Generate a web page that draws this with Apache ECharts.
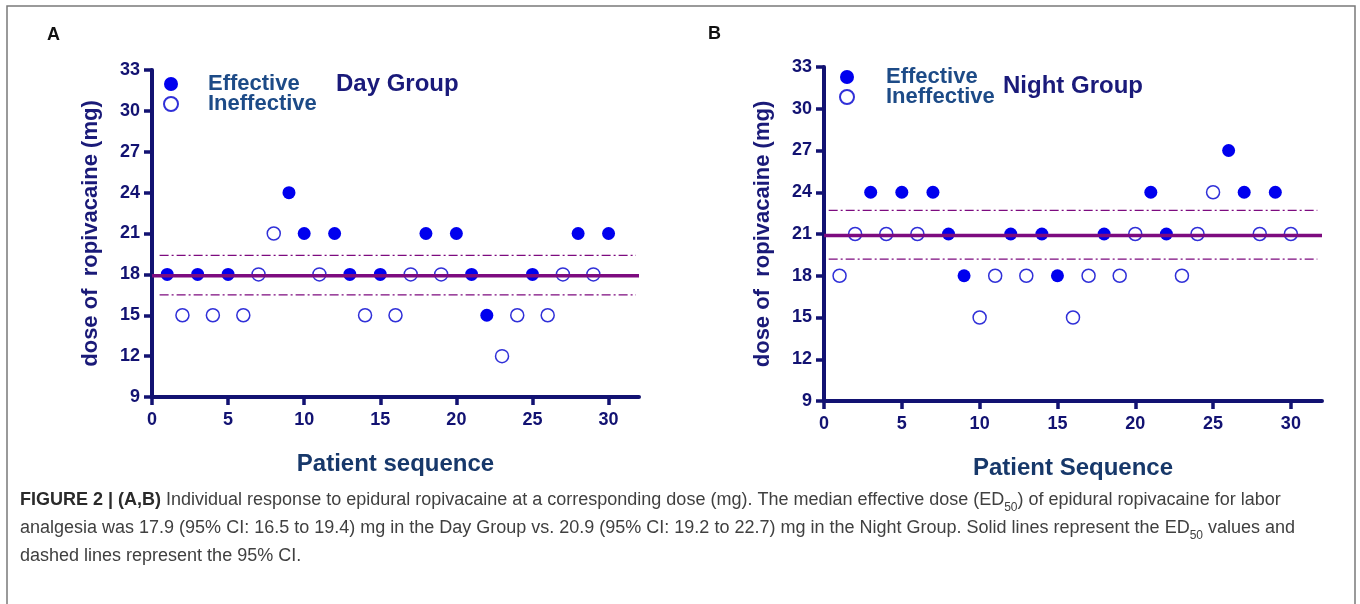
<!DOCTYPE html>
<html>
<head>
<meta charset="utf-8">
<script src="https://cdn.jsdelivr.net/npm/echarts@6/dist/echarts.min.js"></script>
<style>
html,body{margin:0;padding:0;background:#fff;}
#c{width:1360px;height:604px;}
</style>
</head>
<body>
<div id="c"></div>
<script>
// ---------- data ----------
const patients = [1,2,3,4,5,6,7,8,9,10,11,12,13,14,15,16,17,18,19,20,21,22,23,24,25,26,27,28,29,30];
const doseDay = [18,15,18,15,18,15,18,21,24,21,18,21,18,15,18,15,18,21,18,21,18,15,12,15,18,15,18,21,18,21];
const effDay  = [1,0,1,0,1,0,0,0,1,1,0,1,1,0,1,0,0,1,0,1,1,1,0,0,1,0,0,1,0,1];
const doseNight = [18,21,24,21,24,21,24,21,18,15,18,21,18,21,18,15,18,21,18,21,24,21,18,21,24,27,24,21,24,21];
const effNight  = [0,0,1,0,1,0,1,1,1,0,0,1,0,1,1,0,0,1,0,0,1,1,0,0,0,1,1,0,1,0];
const ed50Day = 17.9, ciDay = [16.5, 19.4];
const ed50Night = 20.9, ciNight = [19.2, 22.7];
const xTicks = [0,5,10,15,20,25,30];
const yTicks = [9,12,15,18,21,24,27,30,33];
const xRange = [0, 32];
const ciSpanDay = [0.5, 31.8];
const ciSpanNight = [0.3, 31.7];

// ---------- style ----------
const NAVY = '#121272';
const BLUE = '#0000ee';
const HOLLOW = '#3030d8';
const PURPLE = '#7d0b7f';
const FONT = '"Liberation Sans", Arial, Helvetica, sans-serif';

function pts(dose, eff, want) {
  const out = [];
  for (let i = 0; i < patients.length; i++) if (eff[i] === want) out.push([patients[i], dose[i]]);
  return out;
}

function xAxisCfg(gi, name) {
  return {
    gridIndex: gi, type: 'value', min: xRange[0], max: xRange[1],
    name: name, nameLocation: 'middle', nameGap: 55,
    nameTextStyle: {fontFamily: FONT, fontSize: 24, fontWeight: 'bold', color: '#17386a'},
    axisLine: {show: true, lineStyle: {color: NAVY, width: 4}},
    axisTick: {show: true, length: 8, lineStyle: {color: NAVY, width: 3.5}, customValues: xTicks},
    axisLabel: {fontFamily: FONT, fontSize: 18, fontWeight: 'bold', color: NAVY, margin: 14, customValues: xTicks},
    splitLine: {show: false}
  };
}
function yAxisCfg(gi) {
  return {
    gridIndex: gi, type: 'value', min: yTicks[0], max: yTicks[yTicks.length-1], interval: 3,
    name: 'dose of  ropivacaine (mg)', nameLocation: 'middle', nameGap: 50, nameRotate: 90,
    nameTextStyle: {fontFamily: FONT, fontSize: 22, fontWeight: 'bold', color: '#1a1a78'},
    axisLine: {show: true, lineStyle: {color: NAVY, width: 4}},
    axisTick: {show: true, length: 8, lineStyle: {color: NAVY, width: 3.5}},
    axisLabel: {fontFamily: FONT, fontSize: 18, fontWeight: 'bold', color: NAVY, margin: 12},
    splitLine: {show: false}
  };
}
function groupSeries(gi, dose, eff, ed50, ci, span) {
  return [
    {name: 'Effective', type: 'scatter', xAxisIndex: gi, yAxisIndex: gi, symbol: 'circle', symbolSize: 13,
     itemStyle: {color: BLUE, borderWidth: 0, opacity: 1}, data: pts(dose, eff, 1), z: 3},
    {name: 'Ineffective', type: 'scatter', xAxisIndex: gi, yAxisIndex: gi, symbol: 'circle', symbolSize: 13,
     itemStyle: {color: '#ffffff', borderColor: HOLLOW, borderWidth: 1.5, opacity: 1}, data: pts(dose, eff, 0), z: 3},
    {type: 'line', xAxisIndex: gi, yAxisIndex: gi, symbol: 'none', silent: true, z: 4,
     lineStyle: {color: PURPLE, width: 3.5}, data: [[xRange[0], ed50], [xRange[1], ed50]]},
    {type: 'line', xAxisIndex: gi, yAxisIndex: gi, symbol: 'none', silent: true, z: 4,
     lineStyle: {color: PURPLE, width: 1.3, type: [9, 3, 2, 3]}, data: [[span[0], ci[0]], [span[1], ci[0]]]},
    {type: 'line', xAxisIndex: gi, yAxisIndex: gi, symbol: 'none', silent: true, z: 4,
     lineStyle: {color: PURPLE, width: 1.3, type: [9, 3, 2, 3]}, data: [[span[0], ci[1]], [span[1], ci[1]]]}
  ];
}
function legendCfg(left, top, pad) {
  return {
    data: ['Effective', 'Ineffective'], orient: 'vertical', left: left, top: top,
    itemWidth: 14, itemHeight: 14, itemGap: -2, selectedMode: false,
    textStyle: {fontFamily: FONT, fontSize: 22, fontWeight: 'bold', color: '#1d4b87', lineHeight: 20, padding: [0,0,0,pad]}
  };
}

const caption =
  '{b|FIGURE 2 | (A,B)} Individual response to epidural ropivacaine at a corresponding dose (mg). The median effective dose (ED{s|50}) of epidural ropivacaine for labor\n' +
  'analgesia was ' + ed50Day + ' (95% CI: ' + ciDay[0] + ' to ' + ciDay[1] + ') mg in the Day Group vs. ' + ed50Night + ' (95% CI: ' + ciNight[0] + ' to ' + ciNight[1] + ') mg in the Night Group. Solid lines represent the ED{s|50} values and\n' +
  'dashed lines represent the 95% CI.';

const option = {
  backgroundColor: '#ffffff',
  animation: false,
  title: [
    {text: 'A', left: 42, top: 21, textStyle: {fontFamily: FONT, fontSize: 18, fontWeight: 'bold', color: '#111'}},
    {text: 'B', left: 703, top: 20, textStyle: {fontFamily: FONT, fontSize: 18, fontWeight: 'bold', color: '#111'}},
    {text: 'Day Group', left: 331, top: 67, textStyle: {fontFamily: FONT, fontSize: 24, fontWeight: 'bold', color: '#1a1a7a'}},
    {text: 'Night Group', left: 998, top: 69, textStyle: {fontFamily: FONT, fontSize: 24, fontWeight: 'bold', color: '#1a1a7a'}}
  ],
  legend: [legendCfg(158, 68, 25), legendCfg(834, 61, 27)],
  grid: [
    {left: 152, top: 70, width: 487, height: 327, containLabel: false},
    {left: 824, top: 67, width: 498, height: 334, containLabel: false}
  ],
  xAxis: [xAxisCfg(0, 'Patient sequence'), xAxisCfg(1, 'Patient Sequence')],
  yAxis: [yAxisCfg(0), yAxisCfg(1)],
  series: [].concat(
    groupSeries(0, doseDay, effDay, ed50Day, ciDay, ciSpanDay),
    groupSeries(1, doseNight, effNight, ed50Night, ciNight, ciSpanNight)
  ),
  graphic: [
    {type: 'rect', shape: {x: 7, y: 6, width: 1348, height: 620}, silent: true,
     style: {fill: 'none', stroke: '#7a7a7a', lineWidth: 1.5}, z: -1},
    {type: 'text', left: 20, top: 486, silent: true,
     style: {
       text: caption, fontFamily: FONT, fontSize: 18, fill: '#404040', lineHeight: 28,
       rich: {
         b: {fontFamily: FONT, fontSize: 18, fontWeight: 'bold', fill: '#2a2a2a', lineHeight: 28},
         s: {fontFamily: FONT, fontSize: 12, fill: '#404040', lineHeight: 20, verticalAlign: 'bottom'}
       }
     }}
  ]
};

const chart = echarts.init(document.getElementById('c'), null, {renderer: 'canvas'});
chart.setOption(option);
</script>
</body>
</html>
